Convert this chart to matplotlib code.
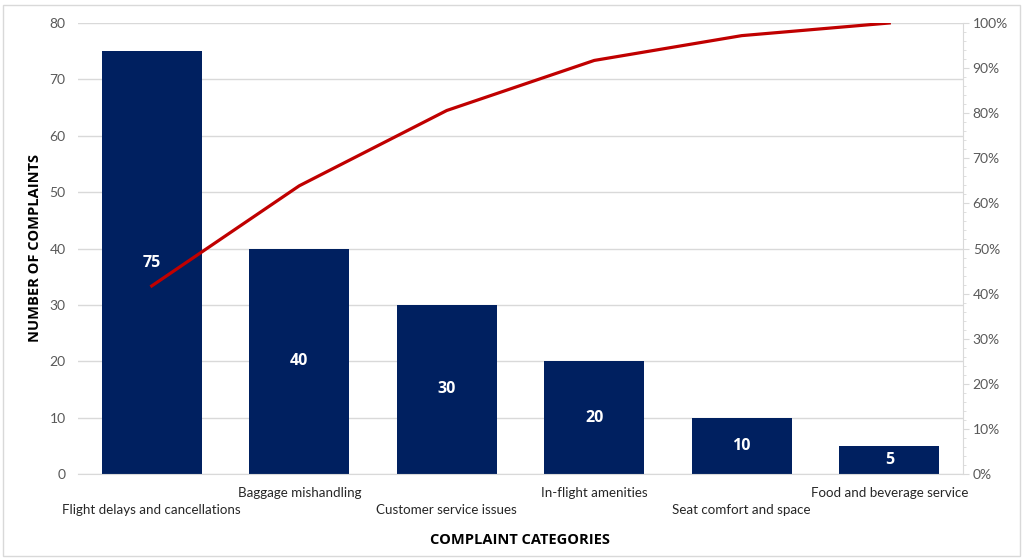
import matplotlib
matplotlib.use("Agg")
import matplotlib.pyplot as plt
from matplotlib.patches import Rectangle
from matplotlib.ticker import MultipleLocator, FuncFormatter

categories = ["Flight delays and cancellations", "Baggage mishandling",
              "Customer service issues", "In-flight amenities",
              "Seat comfort and space", "Food and beverage service"]
counts = [75, 40, 30, 20, 10, 5]
cumulative_pct = [41.7, 63.9, 80.6, 91.7, 97.2, 100.0]
left_ticks = [0, 10, 20, 30, 40, 50, 60, 70, 80]
right_ticks = [0, 10, 20, 30, 40, 50, 60, 70, 80, 90, 100]

plt.rcParams['font.family'] = ['Lato', 'DejaVu Sans']
BOLD_FONT = ['Open Sans', 'DejaVu Sans']
BAR = "#002060"
LINE = "#C00000"
TICK = "#595959"
GRID = "#D9D9D9"

fig = plt.figure(figsize=(10.25, 5.59), dpi=100)
ax = fig.add_axes([78/1025, 85/559, 885/1025, 451/559])
x = list(range(len(categories)))
ax.bar(x, counts, width=0.68, color=BAR, zorder=2)
for xi, v in zip(x, counts):
    ax.text(xi, v/2, str(v), ha='center', va='center', color='white',
            fontsize=11.5, fontweight='bold', family=BOLD_FONT, zorder=3)
ax.set_xlim(-0.5, len(categories) - 0.5)
ax.set_ylim(0, 80)
ax.set_yticks(left_ticks)
ax.yaxis.grid(True, color=GRID, linewidth=1)
ax.set_axisbelow(True)
ax.tick_params(axis='y', length=0, labelcolor=TICK, labelsize=10, pad=9)
ax.set_xticks([])
for s in ['left', 'top', 'right']:
    ax.spines[s].set_visible(False)
ax.spines['bottom'].set_color(GRID)

for xi, c in zip(x, categories):
    ax.annotate(c, (xi, 0), xycoords=('data', 'axes fraction'),
                xytext=(0, -13.5 if xi % 2 == 1 else -26), textcoords='offset points',
                ha='center', va='center', fontsize=9.6, color='#262626')

ax.set_ylabel("NUMBER OF COMPLAINTS", fontsize=10.5, fontweight='bold', family=BOLD_FONT,
              color='black', labelpad=5)
fig.text(520/1025, 1 - 540/559, "COMPLAINT CATEGORIES", ha='center', va='center',
         fontsize=10.5, fontweight='bold', family=BOLD_FONT)

ax2 = ax.twinx()
ax2.plot(x, cumulative_pct, color=LINE, linewidth=2.3, zorder=4)
ax2.set_ylim(0, 100)
ax2.set_yticks(right_ticks)
ax2.yaxis.set_minor_locator(MultipleLocator(2))
ax2.yaxis.set_major_formatter(FuncFormatter(lambda v, p: f"{int(v)}%"))
ax2.tick_params(axis='y', which='major', length=4, color=GRID, labelcolor=TICK, labelsize=10, pad=3)
ax2.tick_params(axis='y', which='minor', length=2, color=GRID)
for s in ['left', 'top', 'bottom']:
    ax2.spines[s].set_visible(False)
ax2.spines['right'].set_color(GRID)

fig.patches.append(Rectangle((3/1025, 3/559), 1017/1025, 551/559, transform=fig.transFigure,
                             fill=False, edgecolor='#D9D9D9', linewidth=1))
fig.savefig("out.png", dpi=100)
